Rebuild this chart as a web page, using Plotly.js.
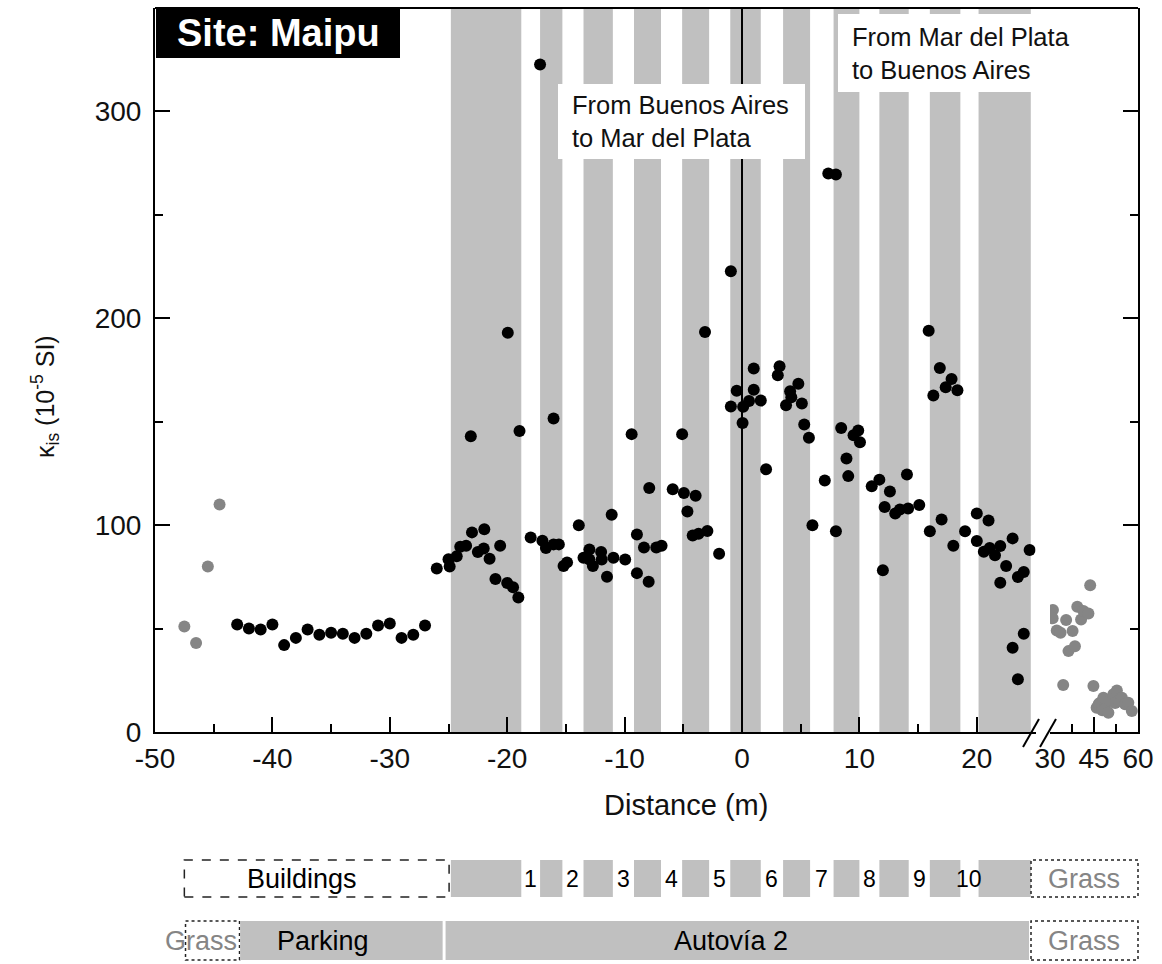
<!DOCTYPE html>
<html>
<head>
<meta charset="utf-8">
<script src="https://cdn.plot.ly/plotly-3.0.1.min.js"></script>
<style>
  html, body { margin: 0; padding: 0; background: #fff; }
  #chart { width: 1162px; height: 964px; }
</style>
</head>
<body>
<div id="chart"></div>
<script>
// ---- Measurements: magnetic susceptibility along the transect ----
// Black dots: road-side profile (Distance in m, κ in 10^-5 SI)
const distBlack = [
  -43, -42, -41, -40, -39, -38, -37, -36, -35, -34, -33, -32, -31, -30, -29, -28, -27,
  -26, -25, -24.9, -24.3, -24.0, -23.5, -23.0, -23.1, -22.5, -22.0, -21.95, -21.5, -21.0,
  -20.6, -20.0, -19.95, -19.5, -19.05, -18.95, -18.0, -17.2, -17.0, -16.7, -16.05, -16.05,
  -15.6, -15.2, -14.9, -13.9, -13.5, -13.0, -13.0, -12.7, -12.0, -11.95, -11.5, -11.1,
  -10.95, -9.95, -9.4, -8.95, -8.95, -8.35, -7.9, -7.95, -7.3, -6.85, -5.9, -5.1, -4.95,
  -4.65, -4.2, -3.95, -3.7, -3.15, -2.95, -1.95, -0.95, -0.95, -0.45, 0.05, 0.1, 0.6,
  1.0, 1.0, 1.6, 2.05, 3.05, 3.2, 3.75, 4.1, 4.2, 4.8, 5.1, 5.3, 5.7, 6.0, 7.05, 7.35,
  8.0, 8.0, 8.45, 8.9, 9.05, 9.5, 9.9, 10.05, 11.05, 11.7, 12.0, 12.15, 12.6, 13.05,
  13.45, 14.05, 14.15, 15.1, 15.9, 16.0, 16.3, 16.85, 17.0, 17.35, 17.85, 18.0, 18.35,
  19.0, 20.0, 20.0, 20.6, 21.0, 21.1, 21.55, 22.0, 22.0, 22.5, 23.05, 23.05, 23.5, 23.5,
  24.0, 24.0, 24.5
];
const kappaBlack = [
  52, 50, 49.5, 52, 42, 45.5, 49.5, 47, 48, 47.5, 45.5, 47.5, 51.5, 52.5, 45.5, 47, 51.5,
  79, 83.5, 80, 85, 89.5, 90, 96.5, 143, 87, 88.7, 98, 83.7, 74,
  90, 72, 193, 70, 65, 145.5, 94, 322.7, 92.5, 89, 151.5, 90.7,
  90.7, 80.2, 82, 100, 84.2, 88.2, 83.4, 80.2, 87, 83.4, 75, 105,
  84.2, 83.4, 144, 95.5, 76.8, 89.2, 118, 72.6, 89.2, 90, 117.4, 144, 115.5,
  106.6, 95, 114.2, 95.8, 193.4, 97.2, 86.2, 222.7, 157.3, 165, 149.4, 157.2, 160,
  175.7, 165.5, 160.2, 127, 172.5, 176.8, 158, 164.7, 161.8, 168.3, 158.8, 148.6, 142.2, 100, 121.6, 270,
  269.5, 97, 147, 132.2, 123.7, 143.5, 145.7, 140.1, 118.8, 122, 78.2, 108.8, 116.3, 105.6,
  107.6, 124.5, 108, 109.7, 194, 97.1, 162.7, 176, 102.7, 166.7, 170.7, 90, 165.2,
  97.1, 105.6, 92.3, 87.1, 102.2, 89, 85.5, 89.9, 72.1, 80.2, 93.6, 40.7, 74.9, 25.5,
  77.4, 47.5, 88
];

// Grey dots: grass strips at both ends
const distGrayLeft = [-47.5, -46.5, -45.5, -44.5];
const kappaGrayLeft = [51, 43, 80, 110];

const distGrayRight = [
  31.0, 30.9, 32.3, 33.6, 35.5, 36.3, 37.7, 38.5, 39.3, 40.6, 41.4, 43.1, 43.7, 34.5, 44.8,
  45.9, 46.6, 47.1, 47.8, 48.2, 48.8, 49.9, 50.5, 51.6, 52.2, 52.8, 53.3, 54.5, 55.6, 56.7, 57.9
];
const kappaGrayRight = [
  59, 55, 49.1, 48, 54.1, 39.1, 48.8, 41.5, 60.5, 54.4, 58.5, 57.3, 70.9, 22.7, 22.2,
  11.7, 13.5, 14.2, 10.5, 16.6, 11, 9.3, 15, 18.2, 14, 20.1, 15, 16.6, 13.4, 14.2, 10.1
];

// Traffic lanes of Autovía 2 (start / end, m)
const laneStart = [-24.8, -17.2, -13.5, -9.2, -5.1, -1.0, 3.5, 7.8, 11.7, 16.0, 20.15];
const laneEnd   = [-18.8, -15.3, -11.0, -6.9, -2.8, 1.6, 5.8, 10.0, 14.2, 18.6, 24.6];
const laneNumbers = ['1', '2', '3', '4', '5', '6', '7', '8', '9', '10'];

// Land-use strips below the plot (m)
const buildingsSpan = [-47.5, -24.95];
const grassLeftSpan = [-47.4, -42.8];
const parkingSpan = [-42.75, -25.5];
const autoviaSpan = [-25.25, 24.45];

// Axis ticks
const xTickVals = [-50, -40, -30, -20, -10, 0, 10, 20];
const xTickText = ['-50', '-40', '-30', '-20', '-10', '0', '10', '20'];
const xMinorVals = [-45, -35, -25, -15, -5, 5, 15];
const x2TickVals = [30, 45, 60];
const x2TickText = ['30', '45', '60'];
const x2MinorVals = [37.5, 52.5];
const yTickVals = [0, 100, 200, 300];
const yTickText = ['0', '100', '200', '300'];
const yMinorVals = [50, 150, 250];

// ---- Layout geometry (pixels of the 1162 x 964 page) ----
const PL = 155, PR = 1138, PT = 8, PB = 732;
const PW = PR - PL, PH = PB - PT;
const fx = p => (p - PL) / PW;     // page x -> paper x
const fy = p => (PB - p) / PH;     // page y -> paper y

const FONT = 'Arial, "Liberation Sans", sans-serif';
const LANE_GREY = '#c0c0c0';

const traces = [
  {
    x: distGrayLeft, y: kappaGrayLeft, type: 'scatter', mode: 'markers',
    marker: { size: 12, color: '#858585' }, xaxis: 'x', yaxis: 'y', hoverinfo: 'x+y'
  },
  {
    x: distBlack, y: kappaBlack, type: 'scatter', mode: 'markers',
    marker: { size: 12, color: '#000000' }, xaxis: 'x', yaxis: 'y', hoverinfo: 'x+y'
  },
  {
    x: distGrayRight, y: kappaGrayRight, type: 'scatter', mode: 'markers',
    marker: { size: 12, color: '#858585' }, xaxis: 'x2', yaxis: 'y2', hoverinfo: 'x+y'
  }
];

const shapes = [];
const annotations = [];

// lane stripes inside the plot
laneStart.forEach((s, i) => {
  shapes.push({ type: 'rect', xref: 'x', yref: 'paper', x0: s, x1: laneEnd[i], y0: 0, y1: 1,
    fillcolor: LANE_GREY, line: { width: 0 }, layer: 'below' });
});
// centre line of the road
shapes.push({ type: 'line', xref: 'x', yref: 'paper', x0: 0, x1: 0, y0: 0, y1: 1,
  line: { color: '#000', width: 2 }, layer: 'below' });
// direction labels sit on white boxes
shapes.push({ type: 'rect', xref: 'paper', yref: 'paper', x0: fx(558), x1: fx(805), y0: fy(159), y1: fy(84),
  fillcolor: '#fff', line: { width: 0 }, layer: 'below' });
shapes.push({ type: 'rect', xref: 'paper', yref: 'paper', x0: fx(838), x1: fx(1077), y0: fy(92), y1: fy(14),
  fillcolor: '#fff', line: { width: 0 }, layer: 'below' });
// frame: top edge
shapes.push({ type: 'line', xref: 'paper', yref: 'paper', x0: 0, x1: 1, y0: 1, y1: 1,
  line: { color: '#000', width: 2 } });
// axis break marks
shapes.push({ type: 'line', xref: 'paper', yref: 'paper', x0: fx(1023), x1: fx(1039), y0: fy(747), y1: fy(719),
  line: { color: '#000', width: 2 } });
shapes.push({ type: 'line', xref: 'paper', yref: 'paper', x0: fx(1040), x1: fx(1056), y0: fy(747), y1: fy(719),
  line: { color: '#000', width: 2 } });
// site label box
shapes.push({ type: 'rect', xref: 'paper', yref: 'paper', x0: fx(156), x1: fx(400), y0: fy(58), y1: 1,
  fillcolor: '#000', line: { width: 0 }, layer: 'above' });

// ---- land-use strips under the axis ----
const r1a = fy(860), r1b = fy(897), r2a = fy(921), r2b = fy(960);
const r1c = (r1a + r1b) / 2, r2c = (r2a + r2b) / 2;
shapes.push({ type: 'rect', xref: 'x', yref: 'paper', x0: buildingsSpan[0], x1: buildingsSpan[1], y0: r1b, y1: r1a,
  fillcolor: 'rgba(0,0,0,0)', line: { color: '#222', width: 1.5, dash: 'dash' } });
laneStart.forEach((s, i) => {
  shapes.push({ type: 'rect', xref: 'x', yref: 'paper', x0: s, x1: laneEnd[i], y0: r1b, y1: r1a,
    fillcolor: LANE_GREY, line: { width: 0 } });
});
shapes.push({ type: 'rect', xref: 'paper', yref: 'paper', x0: fx(1031), x1: fx(1138), y0: r1b, y1: r1a,
  fillcolor: 'rgba(0,0,0,0)', line: { color: '#222', width: 1.5, dash: 'dot' } });
shapes.push({ type: 'rect', xref: 'x', yref: 'paper', x0: grassLeftSpan[0], x1: grassLeftSpan[1], y0: r2b, y1: r2a,
  fillcolor: 'rgba(0,0,0,0)', line: { color: '#222', width: 1.5, dash: 'dot' } });
shapes.push({ type: 'rect', xref: 'x', yref: 'paper', x0: parkingSpan[0], x1: parkingSpan[1], y0: r2b, y1: r2a,
  fillcolor: LANE_GREY, line: { width: 0 } });
shapes.push({ type: 'rect', xref: 'x', yref: 'paper', x0: autoviaSpan[0], x1: autoviaSpan[1], y0: r2b, y1: r2a,
  fillcolor: LANE_GREY, line: { width: 0 } });
shapes.push({ type: 'rect', xref: 'paper', yref: 'paper', x0: fx(1031), x1: fx(1138), y0: r2b, y1: r2a,
  fillcolor: 'rgba(0,0,0,0)', line: { color: '#222', width: 1.5, dash: 'dot' } });

const txt = (text, x, y, opts) => Object.assign({
  text, x, y, xref: 'paper', yref: 'paper', showarrow: false,
  xanchor: 'center', yanchor: 'middle', font: { family: FONT, size: 27, color: '#000' }
}, opts || {});

// lane numbers in the gaps between stripes
laneNumbers.forEach((n, i) => {
  annotations.push(txt(n, (laneEnd[i] + laneStart[i + 1]) / 2, r1c,
    { xref: 'x', font: { family: FONT, size: 23, color: '#000' } }));
});
annotations.push(txt('Buildings', -37.5, r1c, { xref: 'x' }));
annotations.push(txt('Grass', fx(1084), r1c, { font: { family: FONT, size: 27, color: '#858585' } }));
annotations.push(txt('Grass', -46.1, r2c, { xref: 'x', font: { family: FONT, size: 27, color: '#858585' } }));
annotations.push(txt('Parking', -35.7, r2c, { xref: 'x' }));
annotations.push(txt('Autovía 2', -0.9, r2c, { xref: 'x' }));
annotations.push(txt('Grass', fx(1084), r2c, { font: { family: FONT, size: 27, color: '#858585' } }));

// titles and labels
annotations.push(txt('<b>Site: Maipu</b>', fx(278), fy(33), { font: { family: FONT, size: 38, color: '#fff' } }));
annotations.push(txt('From Buenos Aires<br>to Mar del Plata', fx(570), fy(121),
  { xanchor: 'left', align: 'left', font: { family: FONT, size: 25.5, color: '#111' } }));
annotations.push(txt('From Mar del Plata<br>to Buenos Aires', fx(850), fy(53),
  { xanchor: 'left', align: 'left', font: { family: FONT, size: 25.5, color: '#111' } }));
annotations.push(txt('Distance (m)', fx(686), fy(805), { font: { family: FONT, size: 29, color: '#111' } }));
annotations.push(txt('κ<sub>is</sub> (10<sup>-5</sup> SI)', fx(45), fy(397),
  { textangle: -90, font: { family: FONT, size: 25, color: '#111' } }));

const axisCommon = {
  showgrid: false, zeroline: false, showline: true, linecolor: '#000', linewidth: 2,
  ticks: 'inside', ticklen: 15, tickwidth: 2, tickcolor: '#000',
  tickfont: { family: FONT, size: 28, color: '#111' }, fixedrange: true
};

const layout = {
  width: 1162, height: 964,
  margin: { l: PL, r: 1162 - PR, t: PT, b: 964 - PB, pad: 0 },
  paper_bgcolor: '#fff', plot_bgcolor: '#fff',
  showlegend: false,
  font: { family: FONT },
  xaxis: Object.assign({}, axisCommon, {
    domain: [0, fx(1035.5)], range: [-50, 25], anchor: 'y',
    tickmode: 'array', tickvals: xTickVals, ticktext: xTickText,
    minor: { tickmode: 'array', tickvals: xMinorVals, ticks: 'inside', ticklen: 8, tickwidth: 2, tickcolor: '#000' }
  }),
  xaxis2: Object.assign({}, axisCommon, {
    domain: [fx(1050), 1], range: [30, 60], anchor: 'y',
    tickmode: 'array', tickvals: x2TickVals, ticktext: x2TickText,
    minor: { tickmode: 'array', tickvals: x2MinorVals, ticks: 'inside', ticklen: 8, tickwidth: 2, tickcolor: '#000' }
  }),
  yaxis: Object.assign({}, axisCommon, {
    domain: [0, 1], range: [0, 350], anchor: 'x', ticklabelstandoff: 6,
    tickmode: 'array', tickvals: yTickVals, ticktext: yTickText,
    minor: { tickmode: 'array', tickvals: yMinorVals, ticks: 'inside', ticklen: 8, tickwidth: 2, tickcolor: '#000' }
  }),
  yaxis2: Object.assign({}, axisCommon, {
    domain: [0, 1], range: [0, 350], anchor: 'x2', overlaying: 'y', side: 'right',
    tickmode: 'array', tickvals: yTickVals, showticklabels: false,
    minor: { tickmode: 'array', tickvals: yMinorVals, ticks: 'inside', ticklen: 8, tickwidth: 2, tickcolor: '#000' }
  }),
  shapes, annotations
};

Plotly.newPlot('chart', traces, layout, { displayModeBar: false, staticPlot: true });
</script>
</body>
</html>
